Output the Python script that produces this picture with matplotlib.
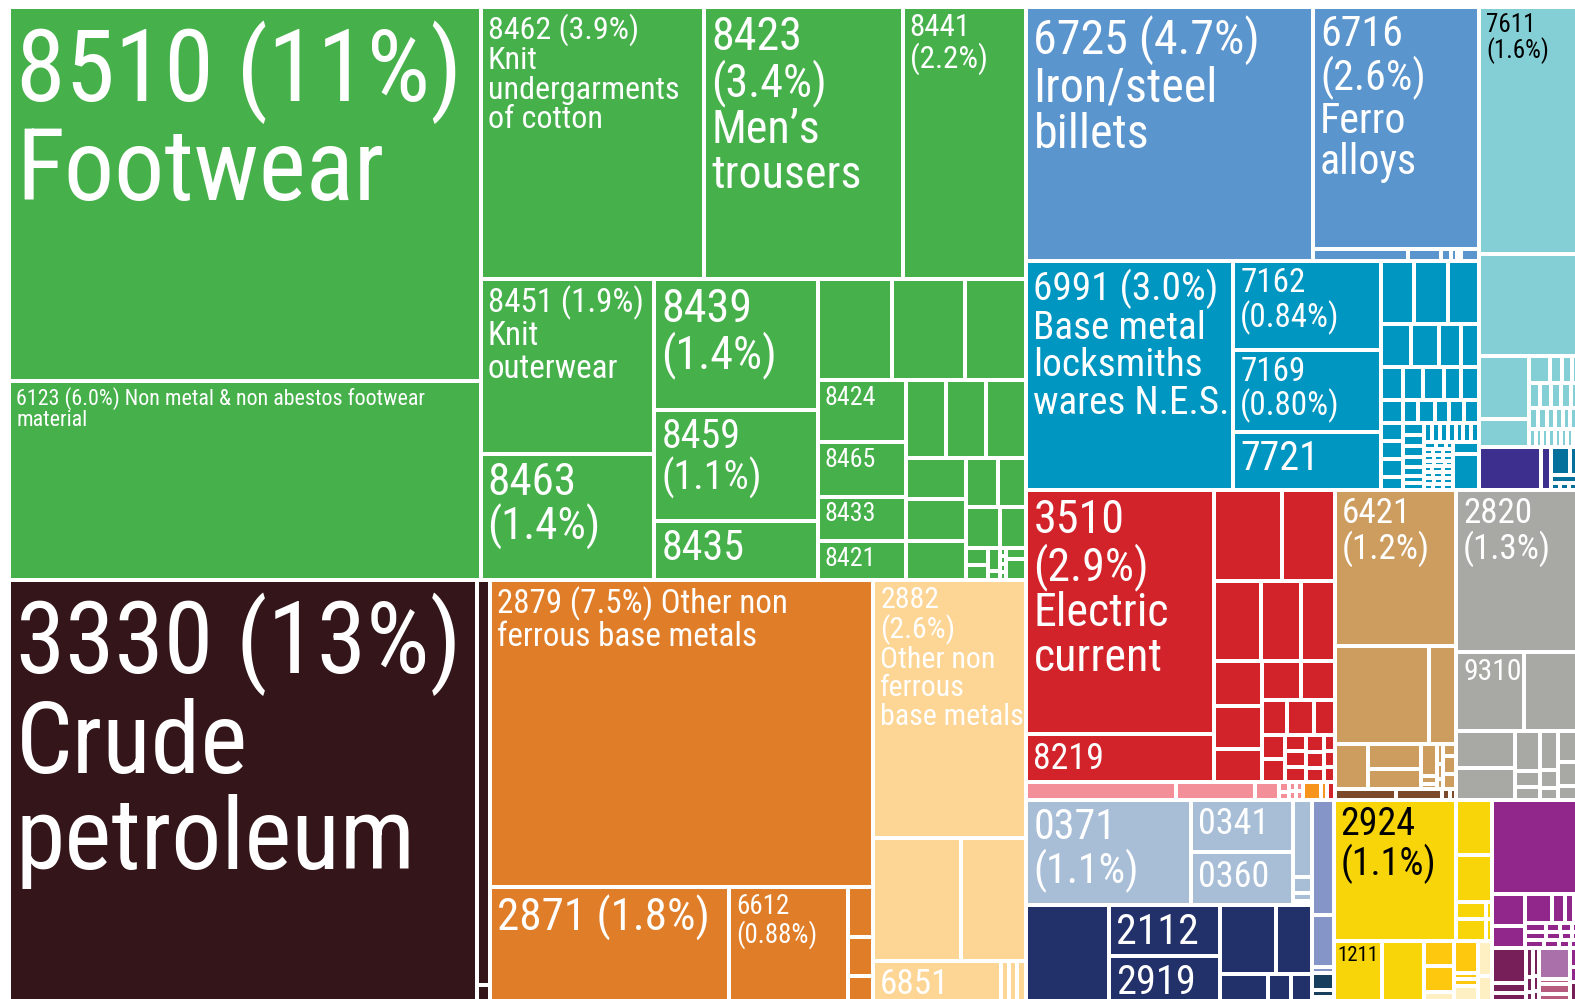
import matplotlib
matplotlib.use("Agg")
import matplotlib.pyplot as plt
from matplotlib import font_manager as fm
from matplotlib.patches import Rectangle

# labelled products: SITC code, share of exports (%)
codes = ['8510', '6123', '8462', '8423', '8441', '8451', '8463', '8439', '8459', '8435',
         '8424', '8465', '8433', '8421', '3330', '2879', '2871', '6612', '2882', '6851',
         '6725', '6716', '7611', '6991', '7162', '7169', '7721', '3510', '8219', '6421',
         '2820', '9310', '0371', '0341', '0360', '2112', '2919', '2924', '1211']
shares = [11.32, 6.00, 3.90, 3.46, 2.16, 1.95, 1.40, 1.37, 1.16, 0.62,
          0.35, 0.31, 0.25, 0.22, 12.64, 7.54, 1.74, 0.87, 2.53, 0.33,
          4.67, 2.58, 1.56, 3.04, 0.84, 0.78, 0.55, 2.94, 0.58, 1.21,
          1.26, 0.349, 1.11, 0.345, 0.345, 0.361, 0.325, 1.11, 0.187]
labels = ['8510 (11%)\nFootwear',
          '6123 (6.0%) Non metal & non abestos footwear\nmaterial',
          '8462 (3.9%)\nKnit\nundergarments\nof cotton',
          '8423\n(3.4%)\nMen\u2019s\ntrousers',
          '8441\n(2.2%)',
          '8451 (1.9%)\nKnit\nouterwear',
          '8463\n(1.4%)', '8439\n(1.4%)', '8459\n(1.1%)', '8435',
          '8424', '8465', '8433', '8421',
          '3330 (13%)\nCrude\npetroleum',
          '2879 (7.5%) Other non\nferrous base metals',
          '2871 (1.8%)', '6612\n(0.88%)',
          '2882\n(2.6%)\nOther non\nferrous\nbase metals',
          '6851',
          '6725 (4.7%)\nIron/steel\nbillets',
          '6716\n(2.6%)\nFerro\nalloys',
          '7611\n(1.6%)',
          '6991 (3.0%)\nBase metal\nlocksmiths\nwares N.E.S.',
          '7162\n(0.84%)', '7169\n(0.80%)', '7721',
          '3510\n(2.9%)\nElectric\ncurrent',
          '8219', '6421\n(1.2%)', '2820\n(1.3%)', '9310',
          '0371\n(1.1%)', '0341', '0360', '2112', '2919',
          '2924\n(1.1%)', '1211']
label_px = [100, 22, 32, 46, 31, 33, 45, 46, 40, 42,
            26, 26, 26, 26, 100, 33, 45, 27, 32, 40,
            48, 42, 25, 45, 33, 33, 40, 46, 36, 35,
            35, 34, 42, 36, 36, 42, 42, 38, 24]
dark_text = ['7611', '2924', '1211']

# smaller, unlabelled products (% of exports)
green_a = [0.48, 0.47, 0.40]
green_b = [0.20, 0.20, 0.20]
green_c = [0.16, 0.16, 0.15]
green_d = [0.10, 0.09]
green_e = [0.09, 0.07]
green_f = [[0.025, 0.021], [0.018, 0.007], [0.003, 0.003, 0.003, 0.003], [0.015, 0.027]]
brown_strip = [0.34, 0.013]
orange_small = [0.081, 0.062, 0.041]
peach_mid = [0.69, 0.52]
peach_small = [0.021, 0.021, 0.023]
blue_strip = [0.074, 0.025, 0.008, 0.005, 0.003, 0.014]
teal_rows = [[0.133, 0.137, 0.125],
             [0.084, 0.078, 0.062, 0.050],
             [0.046, 0.042, 0.042, 0.037, 0.037],
             [0.033, 0.022, 0.024, 0.022, 0.022, 0.022]]
teal_a = [0.026, 0.026, 0.026, 0.019]
teal_b = [0.016, 0.014, 0.014, 0.013, 0.012, 0.010, 0.009]
teal_c = [0.011, 0.010, 0.010, 0.010, 0.009, 0.010, 0.010]
teal_grid = [[0.005, 0.004, 0.003], [0.004, 0.004, 0.004], [0.004, 0.003, 0.004],
             [0.004, 0.004, 0.003], [0.003, 0.004, 0.004], [0.004, 0.004, 0.004],
             [0.004, 0.003, 0.004], [0.004, 0.004, 0.004]]
teal_cell = [0.020, 0.060]
lteal_2 = 0.65
lteal_left = [0.20, 0.09]
lteal_grid = [[0.035, 0.021, 0.018, 0.010],
              [0.017, 0.017, 0.017, 0.015, 0.012],
              [0.012, 0.011, 0.011, 0.010, 0.010, 0.010],
              [0.008, 0.007, 0.007, 0.007, 0.007, 0.007, 0.007, 0.006]]
indigo = [0.173, 0.028]
dteal = [[0.034, 0.015], [0.015], [0.004, 0.004, 0.004]]
red_r1 = [0.39, 0.31]
red_r2 = [0.24, 0.206, 0.178]
red_g1 = [0.134, 0.13, 0.103]
red_ga = [0.097, 0.083]
red_gb = [0.058, 0.06, 0.049]
red_gc = [[0.036, 0.034], [0.022, 0.022, 0.021], [0.02, 0.018, 0.017], [0.011, 0.011, 0.011]]
pink_tiles = [0.164, 0.086, 0.026]
pink_small = [[0.006, 0.005], [0.004, 0.004], [0.004, 0.004]]
orange_bits = [0.020, 0.006]
red_bit = 0.009
tan_mid = [0.587, 0.170]
tan_low = [[0.097], [0.085, 0.067], [0.033, 0.008, 0.006], [0.008, 0.006, 0.004], [0.010, 0.015, 0.013]]
dbrown_row = [0.039, 0.030, 0.005, 0.004]
grey_mid = 0.273
grey_cols = [[0.14, 0.12], [0.062, 0.025, 0.019], [0.045, 0.022, 0.013], [0.040, 0.030, 0.018]]
lb_col = [0.096, 0.019, 0.010, 0.005]
navy_first = 0.507
navy_top = [0.243, 0.159]
navy_bot = [0.084, 0.039, 0.037]
peri_vals = [0.161, 0.072, 0.009]
dnavy_vals = [0.024, 0.009, 0.006]
yellow_col = [[0.125], [0.107], [0.033, 0.006], [0.040, 0.008]]
yellow_low = 0.164
gold_a = [0.05, 0.05]
gold_b = [0.05, 0.01, 0.01]
pale = [0.017, 0.024, 0.030, 0.021]
purple_big = 0.525
purple_a = [0.068, 0.047]
purple_b = [0.048, 0.024, 0.016, 0.008]
purple_grid = [[0.012, 0.008, 0.0065, 0.0035], [0.011, 0.008, 0.006, 0.003], [0.010, 0.008, 0.006, 0.004]]
maroon_cols = [[0.078, 0.021, 0.018], [0.013, 0.007, 0.004], [0.011, 0.006, 0.004]]
lavender = 0.06
rose = [0.009, 0.020, 0.014]
purple_end = [0.010, 0.008]
maroon_end = 0.010

COL = {
    'green': '#46B14B', 'brown': '#33151A', 'orange': '#E07D28', 'peach': '#FDD595',
    'blue': '#5B95CE', 'teal': '#0096C2', 'lteal': '#83CFD5', 'indigo': '#3C2F8D',
    'dteal': '#05709C', 'red': '#D2232A', 'pink': '#F28F99', 'orange2': '#F7941D',
    'tan': '#CD9D60', 'dbrown': '#7A4A2A', 'grey': '#A8A9A5', 'lblue': '#A8BED7',
    'navy': '#22316A', 'peri': '#8695C8', 'dnavy': '#173E5C', 'yellow': '#F7D509',
    'gold': '#FDC80E', 'pale': '#FEF0C3', 'purple': '#91268B', 'maroon': '#771F58',
    'lavender': '#AA70AA', 'rose': '#B75C7F',
}

SHARE = dict(zip(codes, shares))


def leaf(v, col, code=None):
    return {'v': v, 'col': COL[col], 'code': code}


def grp(d, kids):
    return {'v': sum(k['v'] for k in kids), 'd': d, 'kids': list(kids)}


def H(*kids):
    return grp('h', kids)


def V(*kids):
    return grp('v', kids)


def cells(vals, col, d='h'):
    return grp(d, [leaf(v, col) for v in vals])


def P(code, col):
    return leaf(SHARE[code], col, code)


def build_tree():
    g = 'green'
    green = H(
        V(P('8510', g), P('6123', g)),
        V(H(P('8462', g), P('8423', g), P('8441', g)),
          H(V(P('8451', g), P('8463', g)),
            V(P('8439', g), P('8459', g), P('8435', g)),
            V(cells(green_a, g),
              H(V(P('8424', g), P('8465', g), P('8433', g), P('8421', g)),
                V(cells(green_b, g),
                  H(cells(green_c, g, 'v'),
                    V(cells(green_d, g), cells(green_e, g),
                      H(*[cells(c, g, 'v') for c in green_f])))))))))
    brown = H(P('3330', 'brown'), cells(brown_strip, 'brown', 'v'))
    orange = V(P('2879', 'orange'),
               H(P('2871', 'orange'), P('6612', 'orange'), cells(orange_small, 'orange', 'v')))
    peach = V(P('2882', 'peach'), cells(peach_mid, 'peach'),
              H(P('6851', 'peach'), cells(peach_small, 'peach')))
    left = V(green, H(brown, orange, peach))

    blue = H(P('6725', 'blue'), V(P('6716', 'blue'), cells(blue_strip, 'blue')))
    t = 'teal'
    t3 = V(*[cells(r, t) for r in teal_rows],
           H(cells(teal_a, t, 'v'), cells(teal_b, t, 'v'),
             V(cells(teal_c, t),
               H(V(*[cells(r, t) for r in teal_grid]), cells(teal_cell, t, 'v')))))
    teal = H(P('6991', t), V(P('7162', t), P('7169', t), P('7721', t)), t3)
    lteal = V(P('7611', 'lteal'), leaf(lteal_2, 'lteal'),
              H(cells(lteal_left, 'lteal', 'v'), V(*[cells(r, 'lteal') for r in lteal_grid])),
              H(cells(indigo, 'indigo'), V(*[cells(r, 'dteal') for r in dteal])))
    rtop = H(V(blue, teal), lteal)

    r = 'red'
    red2 = V(cells(red_r1, r), cells(red_r2, r),
             H(cells(red_g1, r, 'v'),
               V(cells(red_ga, r), cells(red_gb, r), H(*[cells(c, r, 'v') for c in red_gc]))))
    pink_row = H(*[leaf(v, 'pink') for v in pink_tiles],
                 *[cells(c, 'pink', 'v') for c in pink_small],
                 *[leaf(v, 'orange2') for v in orange_bits], leaf(red_bit, r))
    red = V(H(V(P('3510', r), P('8219', r)), red2), pink_row)
    tan = V(P('6421', 'tan'), cells(tan_mid, 'tan'),
            H(*[cells(c, 'tan', 'v') for c in tan_low]), cells(dbrown_row, 'dbrown'))
    grey = V(P('2820', 'grey'), H(P('9310', 'grey'), leaf(grey_mid, 'grey')),
             H(*[cells(c, 'grey', 'v') for c in grey_cols]))
    rmid = H(red, tan, grey)

    lblue = H(P('0371', 'lblue'), V(P('0341', 'lblue'), P('0360', 'lblue')),
              cells(lb_col, 'lblue', 'v'))
    navy = H(leaf(navy_first, 'navy'), V(P('2112', 'navy'), P('2919', 'navy')),
             V(cells(navy_top, 'navy'), cells(navy_bot, 'navy')))
    peri = V(cells(peri_vals, 'peri', 'v'), cells(dnavy_vals, 'dnavy', 'v'))
    yellow = V(H(P('2924', 'yellow'), V(*[cells(c, 'yellow') for c in yellow_col])),
               H(P('1211', 'yellow'), leaf(yellow_low, 'yellow'),
                 V(*[leaf(v, 'gold') for v in gold_a], leaf(pale[0], 'pale')),
                 V(*[leaf(v, 'gold') for v in gold_b], leaf(pale[1], 'pale')),
                 cells(pale[2:], 'pale', 'v')))
    purple = V(leaf(purple_big, 'purple'),
               H(cells(purple_a, 'purple', 'v'),
                 V(cells(purple_b, 'purple'), V(*[cells(rw, 'purple') for rw in purple_grid]))),
               H(*[cells(c, 'maroon', 'v') for c in maroon_cols],
                 V(leaf(lavender, 'lavender'), cells(rose, 'rose', 'v')),
                 V(*[leaf(v, 'purple') for v in purple_end], leaf(maroon_end, 'maroon'))))
    rbot = H(V(lblue, navy), peri, yellow, purple)
    right = V(rtop, rmid, rbot)
    return H(left, right)


def place(node, x0, y0, x1, y1, out):
    if 'kids' not in node:
        out.append((x0, y0, x1, y1, node))
        return
    pos = x0 if node['d'] == 'h' else y0
    for k in node['kids']:
        frac = k['v'] / node['v']
        if node['d'] == 'h':
            w = (x1 - x0) * frac
            place(k, pos, y0, pos + w, y1, out)
        else:
            w = (y1 - y0) * frac
            place(k, x0, pos, x1, pos + w, out)
        pos += w


def pick_font():
    names = {f.name for f in fm.fontManager.ttflist}
    for name in ['Roboto Condensed', 'Liberation Sans Narrow', 'Open Sans Condensed']:
        if name in names:
            return {'family': name, 'stretch': 'normal'}
    return {'family': 'DejaVu Sans', 'stretch': 'condensed'}


def main():
    W, Hh = 1575, 999
    fig = plt.figure(figsize=(W / 100, Hh / 100), dpi=100)
    ax = fig.add_axes([0, 0, 1, 1])
    ax.set_xlim(0, W)
    ax.set_ylim(Hh, 0)
    ax.axis('off')

    tiles = []
    place(build_tree(), 9, 7, 1578, 1001, tiles)

    gap = 2.0
    for x0, y0, x1, y1, nd in tiles:
        w, h = x1 - x0 - 2 * gap, y1 - y0 - 2 * gap
        if w > 0.4 and h > 0.4:
            ax.add_patch(Rectangle((x0 + gap, y0 + gap), w, h, facecolor=nd['col'],
                                   edgecolor='none'))

    font = pick_font()
    texts = []
    for x0, y0, x1, y1, nd in tiles:
        code = nd['code']
        if code is None:
            continue
        i = codes.index(code)
        size = label_px[i]
        color = 'black' if code in dark_text else 'white'
        padx = 7 if x1 - x0 > 60 else 4
        t = ax.text(x0 + padx, y0 + 3 + 0.1 * size, labels[i], ha='left', va='top',
                    color=color, fontsize=size * 0.72, linespacing=1.02,
                    family=font['family'], fontstretch=font['stretch'], clip_on=True)
        texts.append((t, x1 - x0 - padx - 3, y1 - y0 - 6))

    # shrink labels that do not fit inside their tile
    fig.canvas.draw()
    rend = fig.canvas.get_renderer()
    for t, w, h in texts:
        bb = t.get_window_extent(rend)
        s = min(1.0, w / bb.width, max(h, 20) / bb.height)
        if s < 1.0:
            t.set_fontsize(t.get_fontsize() * s)

    fig.savefig('out.png', dpi=100)


if __name__ == "__main__":
    main()
